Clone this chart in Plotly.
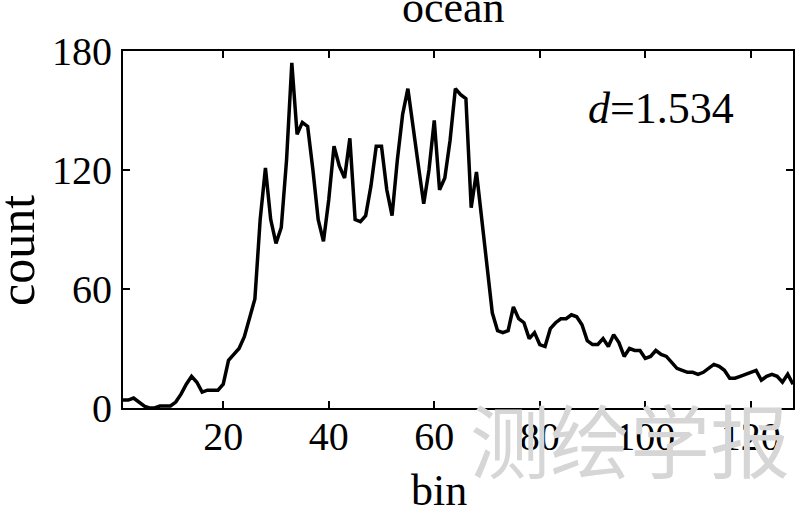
import plotly.graph_objects as go

bins = list(range(1, 129))
counts = [4, 4, 5, 3, 1, 0, 0, 1, 1, 1,
          3, 7, 12, 16, 13, 8, 9, 9, 9, 12,
          24, 27, 30, 36, 45, 55, 95, 121, 95, 83,
          91, 125, 174, 138, 144, 142, 120, 95, 84, 105,
          132, 122, 116, 136, 95, 94, 97, 112, 132, 132,
          110, 97, 125, 148, 161, 140, 122, 103, 120, 145,
          110, 116, 135, 161, 158, 156, 101, 119, 95, 72,
          48, 39, 38, 39, 51, 45, 43, 35, 38, 32,
          31, 40, 43, 45, 45, 47, 46, 42, 34, 32,
          32, 35, 31, 37, 33, 26, 30, 29, 29, 25,
          26, 29, 27, 26, 23, 20, 19, 18, 18, 17,
          18, 20, 22, 21, 19, 15, 15, 16, 17, 18,
          19, 14, 16, 17, 16, 13, 17, 12]
x_ticks = [20, 40, 60, 80, 100, 120]
y_ticks = [0, 60, 120, 180]

serif = "Liberation Serif, Times New Roman, serif"

fig = go.Figure()
fig.add_trace(go.Scatter(x=bins, y=counts, mode="lines",
                         line=dict(color="black", width=3.5), showlegend=False))

axis_common = dict(showline=True, linecolor="black", linewidth=2, mirror="ticks",
                   ticks="inside", ticklen=7, tickwidth=2, tickcolor="black",
                   showgrid=False, zeroline=False, automargin=False,
                   tickfont=dict(family=serif, size=40, color="black"))

fig.update_xaxes(range=[1, 128], tickvals=x_ticks, ticklabelstandoff=-8, **axis_common)
fig.update_yaxes(range=[0, 180], tickvals=y_ticks, ticklabelstandoff=1, **axis_common)

fig.update_layout(
    width=800, height=507,
    margin=dict(l=123, r=7, t=51, b=99, autoexpand=False),
    paper_bgcolor="white", plot_bgcolor="white",
    annotations=[
        dict(text="测绘学报", xref="paper", yref="paper", x=0.757, y=-0.081,
             xanchor="center", yanchor="middle", showarrow=False,
             font=dict(family="Noto Sans CJK SC", size=80, color="#d6d6d6")),
        dict(text="ocean", xref="paper", yref="paper", x=0.494, y=1.123,
             xanchor="center", yanchor="middle", showarrow=False,
             font=dict(family=serif, size=44, color="black")),
        dict(text="bin", xref="paper", yref="paper", x=0.4716, y=-0.23,
             xanchor="center", yanchor="middle", showarrow=False,
             font=dict(family=serif, size=44, color="black")),
        dict(text="count", xref="paper", yref="paper", x=-0.158, y=0.44,
             xanchor="center", yanchor="middle", showarrow=False, textangle=-90,
             font=dict(family=serif, size=50, color="black")),
        dict(text="<i>d</i>=1.534", xref="paper", yref="paper", x=0.803, y=0.838,
             xanchor="center", yanchor="middle", showarrow=False,
             font=dict(family=serif, size=44, color="black")),
    ],
)

fig.write_html("out.html", config={"displayModeBar": False},
               post_script="document.body.style.margin='0px';")
